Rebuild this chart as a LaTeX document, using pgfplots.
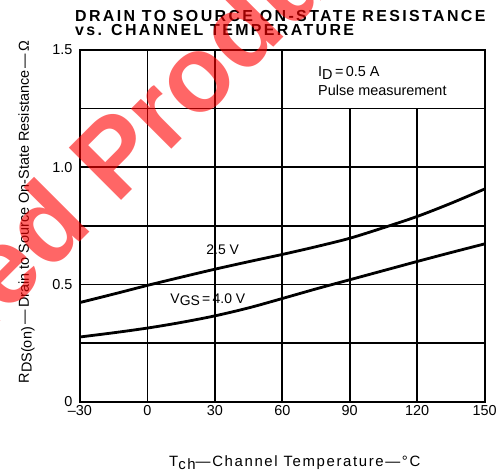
\documentclass[border=0pt]{standalone}
\usepackage{fontspec}
\setmainfont{Liberation Sans}
\newfontfamily\titlefont[LetterSpace=15]{Liberation Sans}
\newfontfamily\labelfont[LetterSpace=11]{Liberation Sans}
\usepackage{pgfplots}
\pgfplotsset{compat=1.18}
\definecolor{wmred}{RGB}{255,0,0}

\begin{document}
\begin{tikzpicture}
\begin{axis}[
  set layers,
  at={(0,0)}, anchor=south west,
  scale only axis, width=405bp, height=352bp,
  xmin=-30, xmax=150, ymin=0, ymax=1.5,
  xtick={-30,0,30,60,90,120,150},
  xticklabels={--30,0,30,60,90,120,150},
  ytick={0,0.5,1.0,1.5},
  yticklabels={0,0.5,1.0,1.5},
  minor ytick={0.25,0.75,1.25},
  grid=both,
  major grid style={black, line width=1.6bp},
  minor grid style={black, line width=1.6bp},
  axis line style={line width=2.2bp},
  major tick length=0pt, minor tick length=0pt,
  tick label style={font=\fontsize{14.5}{15}\selectfont},
  yticklabel style={xshift=-4bp},
  /pgf/number format/assume math mode=true,
  clip=false,
]
\begin{pgfonlayer}{axis ticks}
  \filldraw[fill=white, draw=black, line width=1.6bp]
    (axis cs:60,1.25) rectangle (axis cs:150,1.5);
\end{pgfonlayer}

\addplot[black, line width=2.8bp, smooth] coordinates {
  (-30,0.423) (-15,0.459) (0,0.496) (15,0.531) (30,0.565) (45,0.597) (60,0.628)
  (75,0.661) (90,0.697) (105,0.742) (120,0.790) (135,0.846) (150,0.907)};
\addplot[black, line width=2.8bp, smooth] coordinates {
  (-30,0.276) (-15,0.294) (0,0.314) (15,0.338) (30,0.366) (45,0.400) (60,0.440)
  (75,0.481) (90,0.520) (105,0.559) (120,0.598) (135,0.636) (150,0.673)};

\node[anchor=base, font=\fontsize{14}{16}\selectfont] at (axis cs:33.5,0.628) {2.5 V};
\node[anchor=base west, font=\fontsize{14}{16}\selectfont] at (axis cs:8.7,0.42)
  {V\raisebox{-0.35ex}{GS}\,=\,4.0 V};
\node[anchor=base west, font=\fontsize{14.5}{16}\selectfont] at (axis cs:74.4,1.385)
  {I\raisebox{-0.35ex}{D}\,=\,0.5 A};
\node[anchor=base west, font=\fontsize{14.5}{16}\selectfont] at (axis cs:74.4,1.307)
  {Pulse measurement};
\end{axis}

% page = 500 x 473 px, axis box south west at (80,402) px
\path (-80bp,-71bp) rectangle (420bp,402bp);

% titles and axis labels
\node[anchor=base west, inner sep=0pt, font=\titlefont\bfseries\fontsize{16}{16}\selectfont]
  at (-5bp,380.3bp) {DRAIN TO SOURCE ON-STATE RESISTANCE};
\node[anchor=base west, inner sep=0pt, font=\titlefont\bfseries\fontsize{16}{16}\selectfont]
  at (-5bp,366.3bp) {vs. CHANNEL TEMPERATURE};
\node[anchor=base, font=\labelfont\fontsize{15}{16}\selectfont] at (215bp,-65bp)
  {T\raisebox{-0.35ex}{ch}—Channel Temperature—°C};
\node[anchor=base, rotate=90, font=\fontsize{14.5}{16}\selectfont] at (-51bp,190bp)
  {R\raisebox{-0.35ex}{DS(on)}\,—\,Drain to Source On-State Resistance\,—\,Ω};

% watermark
\node[overlay, rotate=45, anchor=base east, inner sep=0pt, text=wmred, text opacity=0.6,
  font=\bfseries\fontsize{108}{108}\selectfont] at (36bp,196bp) {Discontinued\kern0.28em};
\node[overlay, rotate=45, anchor=base west, inner sep=0pt, text=wmred, text opacity=0.6,
  font=\bfseries\fontsize{108}{108}\selectfont] at (36bp,196bp) {Product};
\end{tikzpicture}
\end{document}
